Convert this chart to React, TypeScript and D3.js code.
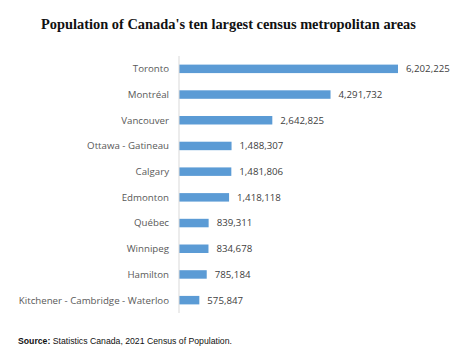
import React from "react";
import * as d3 from "d3";

const categories = [
  "Toronto",
  "Montréal",
  "Vancouver",
  "Ottawa - Gatineau",
  "Calgary",
  "Edmonton",
  "Québec",
  "Winnipeg",
  "Hamilton",
  "Kitchener - Cambridge - Waterloo",
];
const populations = [6202225, 4291732, 2642825, 1488307, 1481806, 1418118, 839311, 834678, 785184, 575847];

const title = "Population of Canada's ten largest census metropolitan areas";
const sourceLabel = "Source:";
const sourceText = " Statistics Canada, 2021 Census of Population.";

export default function App() {
  const W = 474, H = 360;
  const axisX = 179;
  const top = 56, bottom = 313;
  const x = d3.scaleLinear().domain([0, 6202225]).range([axisX, axisX + 219]);
  const y = d3.scaleBand<string>().domain(categories).range([top, bottom]).paddingInner(0.67).paddingOuter(0.335);
  const fmt = d3.format(",");
  const labelFont = "'Open Sans', 'Noto Sans', sans-serif";
  return (
    <svg width={W} height={H} style={{ position: "absolute", left: 0, top: 0, background: "#fff" }}>
      <text x={228.5} y={29} textAnchor="middle" fontFamily="'Liberation Serif', 'Times New Roman', serif" fontWeight="bold" fontSize={14.4} fill="#111">
        {title}
      </text>
      {categories.map((c, i) => {
        const yc = (y(c) as number) + y.bandwidth() / 2;
        return (
          <g key={c}>
            <rect x={axisX} y={y(c)} width={x(populations[i]) - axisX} height={y.bandwidth()} fill="#5B9BD5" />
            <text x={169} y={yc} dy="0.35em" textAnchor="end" fontFamily={labelFont} fontSize={9.7} fill="#595959">
              {c}
            </text>
            <text x={x(populations[i]) + 8} y={yc} dy="0.35em" fontFamily={labelFont} fontSize={9.7} fill="#404040">
              {fmt(populations[i])}
            </text>
          </g>
        );
      })}
      <line x1={axisX} x2={axisX} y1={top} y2={bottom} stroke="#d9d9d9" strokeWidth={1} />
      <text x={18} y={344} fontFamily="'Liberation Sans', Arial, sans-serif" fontSize={8.7} fill="#111">
        <tspan fontWeight="bold">{sourceLabel}</tspan>
        <tspan>{sourceText}</tspan>
      </text>
    </svg>
  );
}
